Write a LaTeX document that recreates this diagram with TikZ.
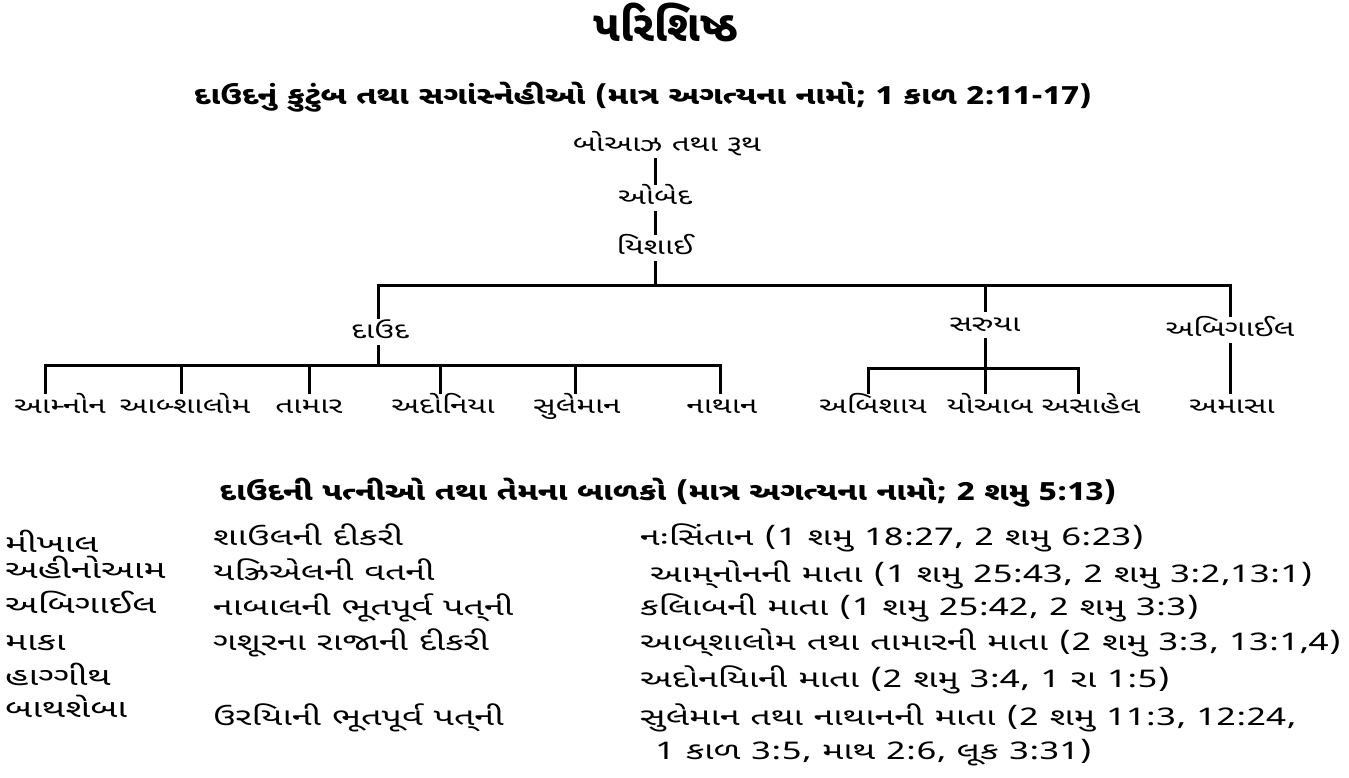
\documentclass[tikz,border=0pt]{standalone}
\usepackage{fontspec}
\newfontfamily\guj[Script=Gujarati]{Noto Sans Gujarati UI}
\newfontfamily\gujw[Script=Gujarati,FakeStretch=1.48]{Noto Sans Gujarati UI}
\newfontfamily\gujt[Script=Gujarati,FakeStretch=1.40]{Noto Sans Gujarati UI}
\newfontfamily\gujh[Script=Gujarati,FakeStretch=1.28]{Noto Sans Gujarati UI}
\begin{document}
\begin{tikzpicture}[x=1pt,y=-1pt,
  conn/.style={line width=3pt},
  lbl/.style={font=\gujt\fontsize{22.5}{26}\selectfont, inner sep=0pt, text height=19.5pt, text depth=6.5pt},
  tbl/.style={font=\gujw\fontsize{24.3}{28}\selectfont, inner sep=0pt, anchor=west, text height=20pt, text depth=6pt},
  tblw/.style={tbl, font=\gujw\fontsize{25}{28}\selectfont},
  ttl/.style={font=\guj\bfseries\fontsize{43}{48}\selectfont, inner sep=0pt},
  hdr/.style={font=\gujh\bfseries\fontsize{25}{30}\selectfont, inner sep=0pt}]
\useasboundingbox (0,0) rectangle (1349,777);
% titles
\node[ttl] (title) at (666,22) {પરિશિષ્ઠ};
\node[hdr] (h1) at (643,97) {દાઉદનું કુટુંબ તથા સગાંસ્નેહીઓ (માત્ર અગત્યના નામો; 1 કાળ 2:11-17)};
% tree
\node[lbl] (boaz) at (667,145) {બોઆઝ તથા રૂથ};
\node[lbl] (obed) at (655,198) {ઓબેદ};
\node[lbl] (yishai) at (655,248) {યિશાઈ};
\node[lbl] (dawid) at (380,332) {દાઉદ};
\node[lbl] (saruya) at (985,325) {સરુયા};
\node[lbl] (abigail) at (1230,330) {અબિગાઈલ};
\node[lbl] (ammon) at (60,407) {આમ્નોન};
\node[lbl] (absalom) at (185,407) {આબ્શાલોમ};
\node[lbl] (tamar) at (309,407) {તામાર};
\node[lbl] (adoniya) at (443,407) {અદોનિયા};
\node[lbl] (sulaiman) at (577,407) {સુલેમાન};
\node[lbl] (nathan) at (722,407) {નાથાન};
\node[lbl] (abishai) at (873,407) {અબિશાય};
\node[lbl] (yoab) at (990,407) {યોઆબ};
\node[lbl] (asahel) at (1091,407) {અસાહેલ};
\node[lbl] (amasa) at (1232,407) {અમાસા};
\coordinate (jbar) at (655,285);
\coordinate (dbar) at (378,365);
\coordinate (sbar) at (985,368);
\draw[conn] (obed.north) -- (obed.north |- boaz.south);
\draw[conn] (yishai.north) -- (yishai.north |- obed.south);
\draw[conn] (yishai.south) -- (jbar);
\draw[conn] (dawid.north -| dbar) |- (jbar) -| (abigail.north);
\draw[conn] (saruya.north) -- (saruya.north |- jbar);
\draw[conn] (dawid.south -| dbar) -- (dbar);
\draw[conn] ([xshift=-15pt]ammon.north) |- (dbar) -| ([xshift=-2pt]nathan.north);
\draw[conn] ([xshift=-4pt]absalom.north) -- ([xshift=-4pt]absalom.north |- dbar);
\draw[conn] (tamar.north) -- (tamar.north |- dbar);
\draw[conn] ([xshift=-3pt]adoniya.north) -- ([xshift=-3pt]adoniya.north |- dbar);
\draw[conn] ([xshift=-2pt]sulaiman.north) -- ([xshift=-2pt]sulaiman.north |- dbar);
\draw[conn] (saruya.south) -- (sbar);
\draw[conn] ([xshift=-5pt]abishai.north) |- (sbar) -| ([xshift=-13pt]asahel.north);
\draw[conn] ([xshift=-5pt]yoab.north) -- ([xshift=-5pt]yoab.north |- sbar);
\draw[conn] (abigail.south) -- (amasa.north -| abigail.south);
% wives table
\node[hdr] (h2) at (668,493) {દાઉદની પત્નીઓ તથા તેમના બાળકો (માત્ર અગત્યના નામો; 2 શમુ 5:13)};
\node[tblw] (w1) at (5,545) {મીખાલ};
\node[tblw] (w2) at (5,571) {અહીનોઆમ};
\node[tblw] (w3) at (5,606) {અબિગાઈલ};
\node[tblw] (w4) at (5,643) {માકા};
\node[tblw] (w5) at (5,678) {હાગ્ગીથ};
\node[tblw] (w6) at (5,710) {બાથશેબા};
\node[tbl] (d1) at (213,538) {શાઉલની દીકરી};
\node[tbl] (d2) at (213,573) {યઝ્રિએલની વતની};
\node[tbl] (d3) at (213,608) {નાબાલની ભૂતપૂર્વ પત્^^^^200cની};
\node[tbl] (d4) at (213,643) {ગશૂરના રાજાની દીકરી};
\node[tbl] (d6) at (213,718) {ઉરયિાની ભૂતપૂર્વ પત્^^^^200cની};
\node[tbl] (c1) at (640,538) {નઃસિંતાન (1 શમુ 18:27, 2 શમુ 6:23)};
\node[tbl] (c2) at (650,575) {આમ્^^^^200cનોનની માતા (1 શમુ 25:43, 2 શમુ 3:2,13:1)};
\node[tbl] (c3) at (640,608) {કલિાબની માતા (1 શમુ 25:42, 2 શમુ 3:3)};
\node[tbl] (c4) at (640,643) {આબ્^^^^200cશાલોમ તથા તામારની માતા (2 શમુ 3:3, 13:1,4)};
\node[tbl] (c5) at (640,680) {અદોનયિાની માતા (2 શમુ 3:4, 1 રા 1:5)};
\node[tbl] (c6) at (640,718) {સુલેમાન તથા નાથાનની માતા (2 શમુ 11:3, 12:24,};
\node[tbl] (c6b) at (655,752) {1 કાળ 3:5, માથ 2:6, લૂક 3:31)};
\end{tikzpicture}
\end{document}
